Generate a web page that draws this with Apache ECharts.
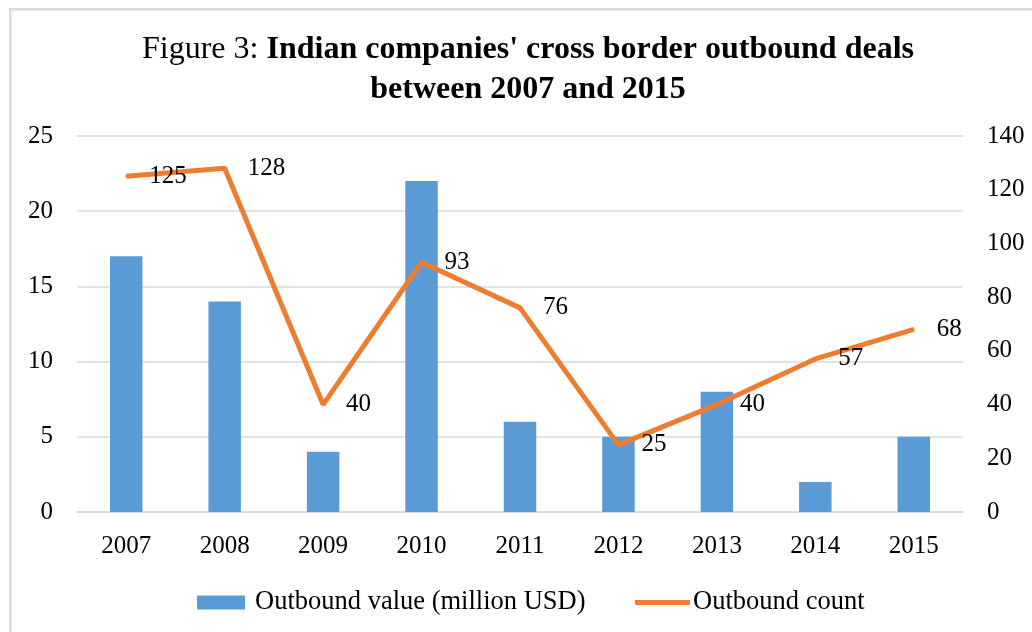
<!DOCTYPE html>
<html>
<head>
<meta charset="utf-8">
<script src="https://cdn.jsdelivr.net/npm/echarts@6/dist/echarts.min.js"></script>
<style>
html,body{margin:0;padding:0;background:#fff;}
#c{width:1032px;height:632px;}
</style>
</head>
<body>
<div id="c"></div>
<script>
const categories = ['2007','2008','2009','2010','2011','2012','2013','2014','2015'];
const outboundValue = [17, 14, 4, 22, 6, 5, 8, 2, 5];
const outboundCount = [125, 128, 40, 93, 76, 25, 40, 57, 68];
const leftTicks = {min: 0, max: 25, interval: 5};
const rightTicks = {min: 0, max: 140, interval: 20};
const seriesNames = ['Outbound value (million USD)', 'Outbound count'];

const FONT = '"Liberation Serif","Times New Roman",serif';
const chart = echarts.init(document.getElementById('c'), null, {renderer: 'canvas'});
chart.setOption({
  backgroundColor: '#fff',
  animation: false,
  graphic: [{
    type: 'rect', shape: {x: 10.3, y: 9.3, width: 1100, height: 700},
    style: {fill: 'none', stroke: '#dcdcdc', lineWidth: 2.7}, silent: true
  }],
  title: {
    left: 523, top: 25, textAlign: 'center',
    text: '{a|Figure 3: }{b|Indian companies\' cross border outbound deals}\n{b|between 2007 and 2015}',
    textStyle: {
      fontFamily: FONT, color: '#000', lineHeight: 40,
      rich: {
        a: {fontFamily: FONT, fontSize: 32, fontWeight: 'normal', color: '#000', lineHeight: 40},
        b: {fontFamily: FONT, fontSize: 32, fontWeight: 'bold', color: '#000', lineHeight: 40}
      }
    }
  },
  legend: [{
    top: 589, left: 197, padding: 0, itemWidth: 48, itemHeight: 14,
    textStyle: {fontFamily: FONT, fontSize: 26.5, color: '#000', padding: [0,0,0,5]},
    data: [{name: seriesNames[0], icon: 'rect'}]
  }, {
    top: 589, left: 635, padding: 0, itemWidth: 55, itemHeight: 5,
    textStyle: {fontFamily: FONT, fontSize: 26.5, color: '#000', padding: [0,0,0,-2]},
    data: [{name: seriesNames[1], icon: 'rect', itemStyle: {color: '#ED7D31'}}]
  }],
  grid: {left: 77, right: 69, top: 136, bottom: 120},
  xAxis: {
    type: 'category', data: categories,
    axisLine: {lineStyle: {color: '#d9d9d9', width: 1.5}},
    axisTick: {show: false},
    axisLabel: {fontFamily: FONT, fontSize: 25, color: '#000', margin: 22}
  },
  yAxis: [{
    type: 'value', min: leftTicks.min, max: leftTicks.max, interval: leftTicks.interval,
    axisLine: {show: false}, axisTick: {show: false},
    axisLabel: {fontFamily: FONT, fontSize: 25, color: '#000', margin: 24},
    splitLine: {lineStyle: {color: '#d9d9d9', width: 1.5}}
  }, {
    type: 'value', min: rightTicks.min, max: rightTicks.max, interval: rightTicks.interval,
    axisLine: {show: false}, axisTick: {show: false},
    axisLabel: {fontFamily: FONT, fontSize: 25, color: '#000', margin: 24},
    splitLine: {show: false}
  }],
  series: [{
    name: seriesNames[0], type: 'bar', data: outboundValue,
    yAxisIndex: 0, barWidth: '33%', itemStyle: {color: '#5B9BD5'}
  }, {
    name: seriesNames[1], type: 'line', data: outboundCount, yAxisIndex: 1,
    symbol: 'circle', symbolSize: 2, showSymbol: true,
    lineStyle: {color: '#ED7D31', width: 5}, itemStyle: {color: '#ED7D31'},
    label: {show: true, position: 'right', distance: 22, offset: [0, 3], fontFamily: FONT, fontSize: 25, color: '#000'},
    labelLayout: {hideOverlap: false}
  }]
});
</script>
</body>
</html>
